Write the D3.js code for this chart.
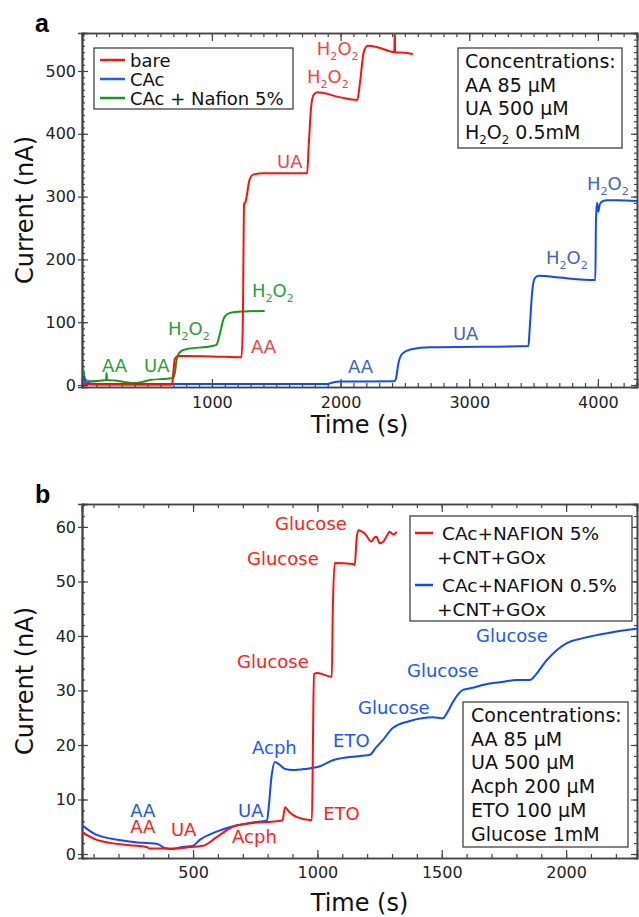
<!DOCTYPE html>
<html>
<head>
<meta charset="utf-8">
<script src="https://cdn.jsdelivr.net/npm/d3@7"></script>
<style>
  body { margin: 0; background: #fff; }
  svg { display: block; font-family: "DejaVu Sans", sans-serif; }
</style>
</head>
<body>
<div id="chart"></div>
<script>
// ---- panel a : series (time s, current nA)
const bareT = [0, 15, 100, 690, 700, 712, 740, 800, 1000, 1230, 1240, 1250, 1262, 1270, 1290, 1320, 1400, 1740, 1752, 1770, 1790, 1820, 2000, 2130, 2150, 2180, 2210, 2300, 2418, 2421, 2424, 2500, 2562];
const bareI = [4, 1, 0.5, 0.5, 20, 42, 46, 46, 45.5, 44, 100, 288, 292, 300, 325, 335, 337, 337, 380, 440, 462, 466, 458, 454, 480, 530, 540, 537, 530, 570, 530, 529, 527];

const cacT = [0, 5, 20, 60, 200, 1900, 1940, 2000, 2420, 2430, 2450, 2480, 2550, 2700, 3460, 3470, 3490, 3510, 3540, 3700, 3980, 3985, 3993, 4003, 4015, 4040, 4070, 4150, 4304];
const cacI = [15, 8, 4, 2.5, 1.5, 1.5, 4, 5.5, 6, 10, 35, 50, 57, 60, 62, 90, 150, 170, 174, 171, 167, 260, 290, 276, 288, 293, 294, 294, 293];

const nafT = [0, 8, 20, 50, 178, 181, 184, 250, 390, 440, 520, 650, 700, 712, 730, 760, 800, 1000, 1035, 1060, 1090, 1120, 1165, 1410];
const nafI = [25, 15, 8, 6, 8, 19, 8, 7, 3, 4, 8, 10, 11, 20, 45, 54, 57, 62, 64, 80, 105, 113, 116, 118];

const legendA = ["bare", "CAc", "CAc + Nafion 5%"];
const concA = ["Concentrations:", "AA 85 µM", "UA 500 µM", "H2O2 0.5mM"];

// annotations a : [text, time, current, series]
const notesA = [
  ["H2O2", 1815, 525, 0], ["H2O2", 1738, 481, 0], ["UA", 1506, 346, 0], ["AA", 1303, 51, 0],
  ["AA", 145, 21, 2], ["UA", 472, 21, 2], ["H2O2", 658, 80, 2], ["H2O2", 1311, 140, 2],
  ["AA", 2057, 19, 1], ["UA", 2873, 72, 1], ["H2O2", 3596, 193, 1], ["H2O2", 3915, 310, 1]
];

// ---- panel b
const n5T = [53, 113, 245, 313, 326, 420, 474, 540, 595, 660, 740, 835, 860, 870, 885, 916, 975, 978, 982, 986, 1000, 1058, 1062, 1070, 1143, 1150, 1158, 1165, 1190, 1218, 1228, 1238, 1250, 1263, 1275, 1291, 1305, 1319];
const n5I = [4.0, 2.6, 1.6, 1.3, 1.0, 1.0, 1.2, 1.5, 3.1, 5.0, 5.7, 6.0, 6.2, 8.6, 7.8, 6.8, 6.2, 6.2, 20, 33, 33.2, 32.5, 45, 53.4, 53.2, 53, 58, 59.4, 58.8, 57.3, 58, 58.2, 57, 57.2, 58, 59.1, 58.6, 59.1];

const n05T = [53, 113, 245, 313, 354, 386, 406, 459, 500, 527, 595, 660, 740, 797, 803, 815, 829, 845, 870, 902, 950, 1010, 1062, 1130, 1211, 1235, 1263, 1303, 1372, 1464, 1504, 1525, 1545, 1585, 1625, 1665, 1734, 1802, 1854, 1867, 1880, 1923, 2003, 2068, 2176, 2285];
const n05I = [5.3, 3.5, 2.3, 2.0, 1.9, 1.1, 0.9, 1.3, 1.5, 2.6, 4.1, 5.1, 5.8, 6.1, 8, 14, 16.9, 16.5, 15.6, 15.4, 15.6, 16.1, 17.2, 17.8, 18.2, 19.5, 20.9, 23.1, 24.4, 25.1, 24.9, 26.2, 27.9, 30.1, 30.5, 31.0, 31.5, 31.9, 31.9, 32.3, 33, 35.6, 38.7, 39.6, 40.6, 41.3];

const legendB = [["CAc+NAFION 5%", "+CNT+GOx"], ["CAc+NAFION 0.5%", "+CNT+GOx"]];
const concB = ["Concentrations:", "AA 85 µM", "UA 500 µM", "Acph 200 µM", "ETO 100 µM", "Glucose 1mM"];

const notesB = [
  ["Glucose", 830, 59.4, 0], ["Glucose", 717, 53.0, 0], ["Glucose", 677, 34.1, 0], ["ETO", 1023, 6.2, 0],
  ["AA", 247, 3.9, 0], ["UA", 411, 3.3, 0], ["Acph", 657, 2.0, 0],
  ["AA", 247, 6.8, 1], ["UA", 681, 6.8, 1], ["Acph", 737, 18.3, 1], ["ETO", 1063, 19.6, 1],
  ["Glucose", 1163, 25.7, 1], ["Glucose", 1360, 32.5, 1], ["Glucose", 1638, 38.9, 1]
];

const W = 639, H = 917;
const svg = d3.select("#chart").append("svg").attr("width", W).attr("height", H);

// write text, turning H2O2 into subscripts
function chemText(sel, s, size) {
  const parts = s.split(/(H2O2)/).filter(p => p != "");
  let back = 0;
  parts.forEach(p => {
    if (p == "H2O2") {
      sel.append("tspan").text("H").attr("dy", -back);
      sel.append("tspan").text("2").attr("font-size", size * 0.62).attr("dy", 5);
      sel.append("tspan").text("O").attr("font-size", size).attr("dy", -5);
      sel.append("tspan").text("2").attr("font-size", size * 0.62).attr("dy", 5);
      back = 5;
    } else {
      sel.append("tspan").text(p).attr("font-size", size).attr("dy", -back);
      back = 0;
    }
  });
}

function panel(cfg) {
  const x = d3.scaleLinear().domain(cfg.xd).range([cfg.left, cfg.right]);
  const y = d3.scaleLinear().domain(cfg.yd).range([cfg.bottom, cfg.top]);
  const g = svg.append("g");
  const axc = "#444";

  // axes: inward ticks on all four sides
  const xMinor = d3.range(cfg.xMinorStart, cfg.xd[1], cfg.xMinor).filter(v => v > cfg.xd[0]);
  const yMinor = d3.range(0, cfg.yd[1], cfg.yMinor).filter(v => v >= cfg.yd[0]);
  const xMajor = cfg.xTicks, yMajor = cfg.yTicks;
  const fmt = d3.format("d");

  g.append("g").attr("transform", `translate(0,${cfg.bottom})`)
    .call(d3.axisBottom(x).tickValues(xMinor).tickSize(-4).tickFormat(""));
  g.append("g").attr("transform", `translate(0,${cfg.bottom})`)
    .call(d3.axisBottom(x).tickValues(xMajor).tickSize(-8).tickPadding(cfg.xPad).tickFormat(fmt));
  g.append("g").attr("transform", `translate(0,${cfg.top})`)
    .call(d3.axisTop(x).tickValues(xMinor).tickSize(-4).tickFormat(""));
  g.append("g").attr("transform", `translate(0,${cfg.top})`)
    .call(d3.axisTop(x).tickValues(xMajor).tickSize(-8).tickFormat(""));
  g.append("g").attr("transform", `translate(${cfg.left},0)`)
    .call(d3.axisLeft(y).tickValues(yMinor).tickSize(-3).tickFormat(""));
  g.append("g").attr("transform", `translate(${cfg.left},0)`)
    .call(d3.axisLeft(y).tickValues(yMajor).tickSize(4).tickPadding(2).tickFormat(fmt));
  g.append("g").attr("transform", `translate(${cfg.left},0)`)
    .call(d3.axisLeft(y).tickValues(yMajor).tickSize(-6).tickFormat(""));
  g.append("g").attr("transform", `translate(${cfg.right},0)`)
    .call(d3.axisRight(y).tickValues(yMinor).tickSize(-3).tickFormat(""));
  g.append("g").attr("transform", `translate(${cfg.right},0)`)
    .call(d3.axisRight(y).tickValues(yMajor).tickSize(-6).tickFormat(""));

  g.selectAll(".domain").attr("stroke", axc).attr("stroke-width", 1.6);
  g.selectAll(".tick line").attr("stroke", axc).attr("stroke-width", 1.2);
  g.selectAll(".tick text").attr("font-size", 16).attr("fill", "#222")
    .attr("font-family", "DejaVu Sans");

  // clip for curves
  const cid = "clip" + cfg.id;
  svg.append("clipPath").attr("id", cid).append("rect")
    .attr("x", cfg.left).attr("y", cfg.top)
    .attr("width", cfg.right - cfg.left).attr("height", cfg.bottom - cfg.top);

  const line = d3.line().x(d => x(d[0])).y(d => y(d[1])).curve(d3.curveMonotoneX);
  const lines = g.append("g").attr("clip-path", `url(#${cid})`);
  cfg.series.forEach(s => {
    lines.append("path")
      .datum(d3.zip(s.t, s.v))
      .attr("d", line)
      .attr("fill", "none")
      .attr("stroke", s.color)
      .attr("stroke-width", 2)
      .attr("stroke-linejoin", "round");
  });

  // annotations
  cfg.notes.forEach(n => {
    const t = g.append("text")
      .attr("x", x(n[1])).attr("y", y(n[2]))
      .attr("font-size", cfg.noteSize)
      .attr("fill", cfg.noteColors[n[3]]);
    chemText(t, n[0], cfg.noteSize);
  });

  // axis titles
  g.append("text")
    .attr("x", (cfg.left + cfg.right) / 2)
    .attr("y", cfg.bottom + cfg.titleGap)
    .attr("text-anchor", "middle")
    .attr("font-size", 24).attr("fill", "#111")
    .text("Time (s)");
  g.append("text")
    .attr("transform", `translate(33,${(cfg.top + cfg.bottom) / 2}) rotate(-90)`)
    .attr("text-anchor", "middle")
    .attr("font-size", 24).attr("fill", "#111")
    .text("Current (nA)");

  g.append("text")
    .attr("x", 35).attr("y", cfg.top - 1)
    .attr("font-size", 25).attr("font-weight", "bold")
    .attr("font-family", "Liberation Sans")
    .text(cfg.id);

  return { g, x, y };
}

// ---------- panel a
const pa = panel({
  id: "a", left: 82, right: 637, top: 33, bottom: 387,
  xd: [-10, 4304], yd: [-3.2, 560.5],
  xTicks: [1000, 2000, 3000, 4000], xMinor: 100, xMinorStart: 0, xPad: 10, titleGap: 46,
  yTicks: [0, 100, 200, 300, 400, 500], yMinor: 10,
  series: [
    { t: nafT, v: nafI, color: "#14991a" },
    { t: cacT, v: cacI, color: "#1448ff" },
    { t: bareT, v: bareI, color: "#ff1010" }
  ],
  notes: notesA, noteSize: 18,
  noteColors: ["#ee4444", "#4466bb", "#2aa040"]
});

// legend a
const colorsA = ["#ff1010", "#1f5cff", "#14991a"];
const la = pa.g.append("g");
la.append("rect").attr("x", 94).attr("y", 48).attr("width", 199).attr("height", 61)
  .attr("fill", "#fff").attr("stroke", "#333").attr("stroke-width", 1.2);
legendA.forEach((s, i) => {
  const yy = 60 + i * 19;
  la.append("line").attr("x1", 100).attr("x2", 125).attr("y1", yy).attr("y2", yy)
    .attr("stroke", colorsA[i]).attr("stroke-width", 2.5);
  la.append("text").attr("x", 130).attr("y", yy + 6.5).attr("font-size", 18).attr("fill", "#111").text(s);
});

const ca = pa.g.append("g");
ca.append("rect").attr("x", 458).attr("y", 48).attr("width", 164).attr("height", 100)
  .attr("fill", "#fff").attr("stroke", "#333").attr("stroke-width", 1.2);
concA.forEach((s, i) => {
  const t = ca.append("text").attr("x", 465).attr("y", 68 + i * 23.7).attr("font-size", 19).attr("fill", "#111");
  chemText(t, s, 19);
});

// ---------- panel b
const pb = panel({
  id: "b", left: 82, right: 637, top: 504, bottom: 858,
  xd: [53.5, 2285], yd: [-0.73, 64.2],
  xTicks: [500, 1000, 1500, 2000], xMinor: 100, xMinorStart: 100, xPad: 9, titleGap: 53,
  yTicks: [0, 10, 20, 30, 40, 50, 60], yMinor: 2,
  series: [
    { t: n05T, v: n05I, color: "#1448ff" },
    { t: n5T, v: n5I, color: "#ff1010" }
  ],
  notes: notesB, noteSize: 18,
  noteColors: ["#ff2020", "#2255ff"]
});

const colorsB = ["#ff1010", "#1448ff"];
const lb = pb.g.append("g");
lb.append("rect").attr("x", 410).attr("y", 516).attr("width", 222).attr("height", 105)
  .attr("fill", "#fff").attr("stroke", "#333").attr("stroke-width", 1.2);
legendB.forEach((s, i) => {
  const yy = 533 + i * 52;
  lb.append("line").attr("x1", 415).attr("x2", 433).attr("y1", yy).attr("y2", yy)
    .attr("stroke", colorsB[i]).attr("stroke-width", 2.5);
  lb.append("text").attr("x", 442).attr("y", yy + 7).attr("font-size", 18.5).attr("fill", "#111").text(s[0]);
  lb.append("text").attr("x", 437).attr("y", yy + 31).attr("font-size", 18.5).attr("fill", "#111").text(s[1]);
});

const cb = pb.g.append("g");
cb.append("rect").attr("x", 463).attr("y", 702).attr("width", 165).attr("height", 145)
  .attr("fill", "#fff").attr("stroke", "#333").attr("stroke-width", 1.2);
concB.forEach((s, i) => {
  cb.append("text").attr("x", 471).attr("y", 722 + i * 23.7).attr("font-size", 19).attr("fill", "#111").text(s);
});
</script>
</body>
</html>
